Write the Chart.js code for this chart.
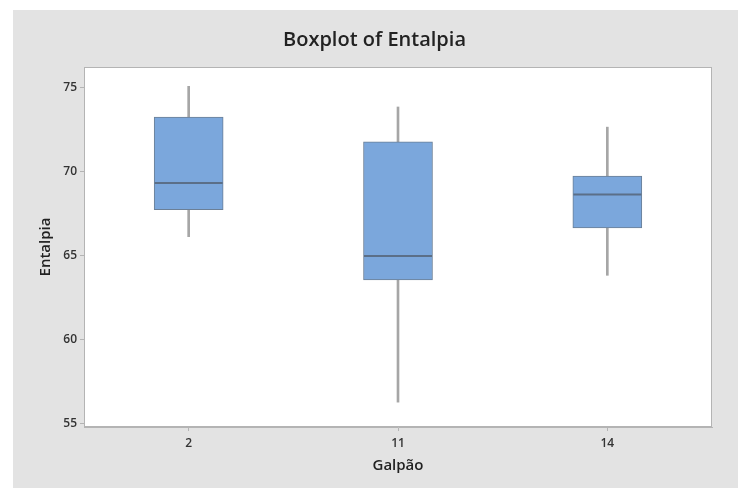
<!DOCTYPE html>
<html>
<head>
<meta charset="utf-8">
<script src="https://cdn.jsdelivr.net/npm/chart.js@4/dist/chart.umd.min.js"></script>
<style>
  html, body { margin: 0; padding: 0; background: #ffffff; }
  canvas { display: block; }
</style>
</head>
<body>
<canvas id="boxChart" width="738" height="488"></canvas>
<script>
// Data
const categories = ["2", "11", "14"];
const whiskerLow = [66.15, 56.3, 63.85];
const q1 = [67.76, 63.57, 66.67];
const median = [69.34, 65.0, 68.66];
const q3 = [73.27, 71.79, 69.75];
const whiskerHigh = [75.1, 73.87, 72.67];
const yTicks = [55, 60, 65, 70, 75];

const ctx = document.getElementById("boxChart").getContext("2d");

// Gray panel behind everything, white plot area with border
const panelPlugin = {
  id: "panel",
  beforeDraw(chart) {
    const c = chart.ctx;
    const area = chart.chartArea;
    c.save();
    c.fillStyle = "#ffffff";
    c.fillRect(0, 0, chart.width, chart.height);
    c.fillStyle = "#e3e3e3";
    c.fillRect(13, 10, chart.width - 13, chart.height - 10);
    c.fillStyle = "#ffffff";
    c.fillRect(area.left, area.top, area.right - area.left, area.bottom - area.top);
    c.restore();
  },
  afterDatasetsDraw(chart) {
    const c = chart.ctx;
    const area = chart.chartArea;
    c.save();
    c.strokeStyle = "#b4b4b4";
    c.lineWidth = 1;
    c.strokeRect(area.left + 0.5, area.top + 0.5, area.right - area.left - 1, area.bottom - area.top - 1);
    c.restore();
  },
};

const whiskerColor = "#a6a6a6";

const chartConfig = {
  data: {
    labels: categories,
    datasets: [
      {
        type: "line",
        label: "median",
        data: median,
        order: 0,
        showLine: false,
        pointStyle: "line",
        pointRadius: 34,
        pointBorderWidth: 2,
        pointBorderColor: "#5b6f88",
        borderColor: "#5b6f88",
      },
      {
        type: "bar",
        label: "box",
        data: categories.map((c, i) => [q1[i], q3[i]]),
        order: 1,
        backgroundColor: "#7ba7dc",
        borderColor: "#6b7f96",
        borderWidth: 1,
        borderSkipped: false,
        barThickness: 69,
      },
      {
        type: "bar",
        label: "upper whisker",
        data: categories.map((c, i) => [q3[i], whiskerHigh[i]]),
        order: 2,
        backgroundColor: whiskerColor,
        borderWidth: 0,
        barThickness: 2,
      },
      {
        type: "bar",
        label: "lower whisker",
        data: categories.map((c, i) => [whiskerLow[i], q1[i]]),
        order: 2,
        backgroundColor: whiskerColor,
        borderWidth: 0,
        barThickness: 2,
      },
    ],
  },
  options: {
    responsive: false,
    animation: false,
    events: [],
    layout: {
      autoPadding: false, // big median "points" would otherwise push the plot edges in
      padding: { left: 37, top: 10, right: 26, bottom: 13 },
    },
    datasets: {
      bar: { grouped: false },
    },
    scales: {
      x: {
        type: "category",
        offset: true,
        grid: {
          display: true,
          offset: false,
          drawOnChartArea: false,
          tickLength: 4,
          color: "#b4b4b4",
        },
        border: { display: true, color: "#b4b4b4" },
        ticks: {
          color: "#333333",
          padding: 5,
          font: { family: "Open Sans", size: 12, weight: "600" },
        },
        title: {
          display: true,
          text: "Galpão",
          color: "#222222",
          padding: { top: 4, bottom: 0 },
          font: { family: "Open Sans", size: 15, weight: "600" },
        },
        afterFit(scale) {
          scale.height = 48;
        },
      },
      y: {
        type: "linear",
        min: 54.82,
        max: 76.25,
        afterBuildTicks(scale) {
          scale.ticks = yTicks.map((v) => ({ value: v }));
        },
        grid: {
          display: true,
          drawOnChartArea: false,
          tickLength: 4,
          color: "#b4b4b4",
        },
        border: { display: true, color: "#b4b4b4" },
        ticks: {
          color: "#333333",
          padding: 3,
          font: { family: "Open Sans", size: 12, weight: "600" },
        },
        title: {
          display: true,
          text: "Entalpia",
          color: "#222222",
          padding: { top: 0, bottom: 6 },
          font: { family: "Open Sans", size: 15, weight: "600" },
        },
        afterFit(scale) {
          scale.width = 47;
        },
      },
    },
    plugins: {
      legend: { display: false },
      tooltip: { enabled: false },
      title: {
        display: true,
        text: "Boxplot of Entalpia",
        color: "#222222",
        padding: { top: 18, bottom: 15 },
        font: { family: "Open Sans", size: 20, weight: "600" },
      },
    },
  },
  plugins: [panelPlugin],
};

new Chart(ctx, chartConfig);
</script>
</body>
</html>
